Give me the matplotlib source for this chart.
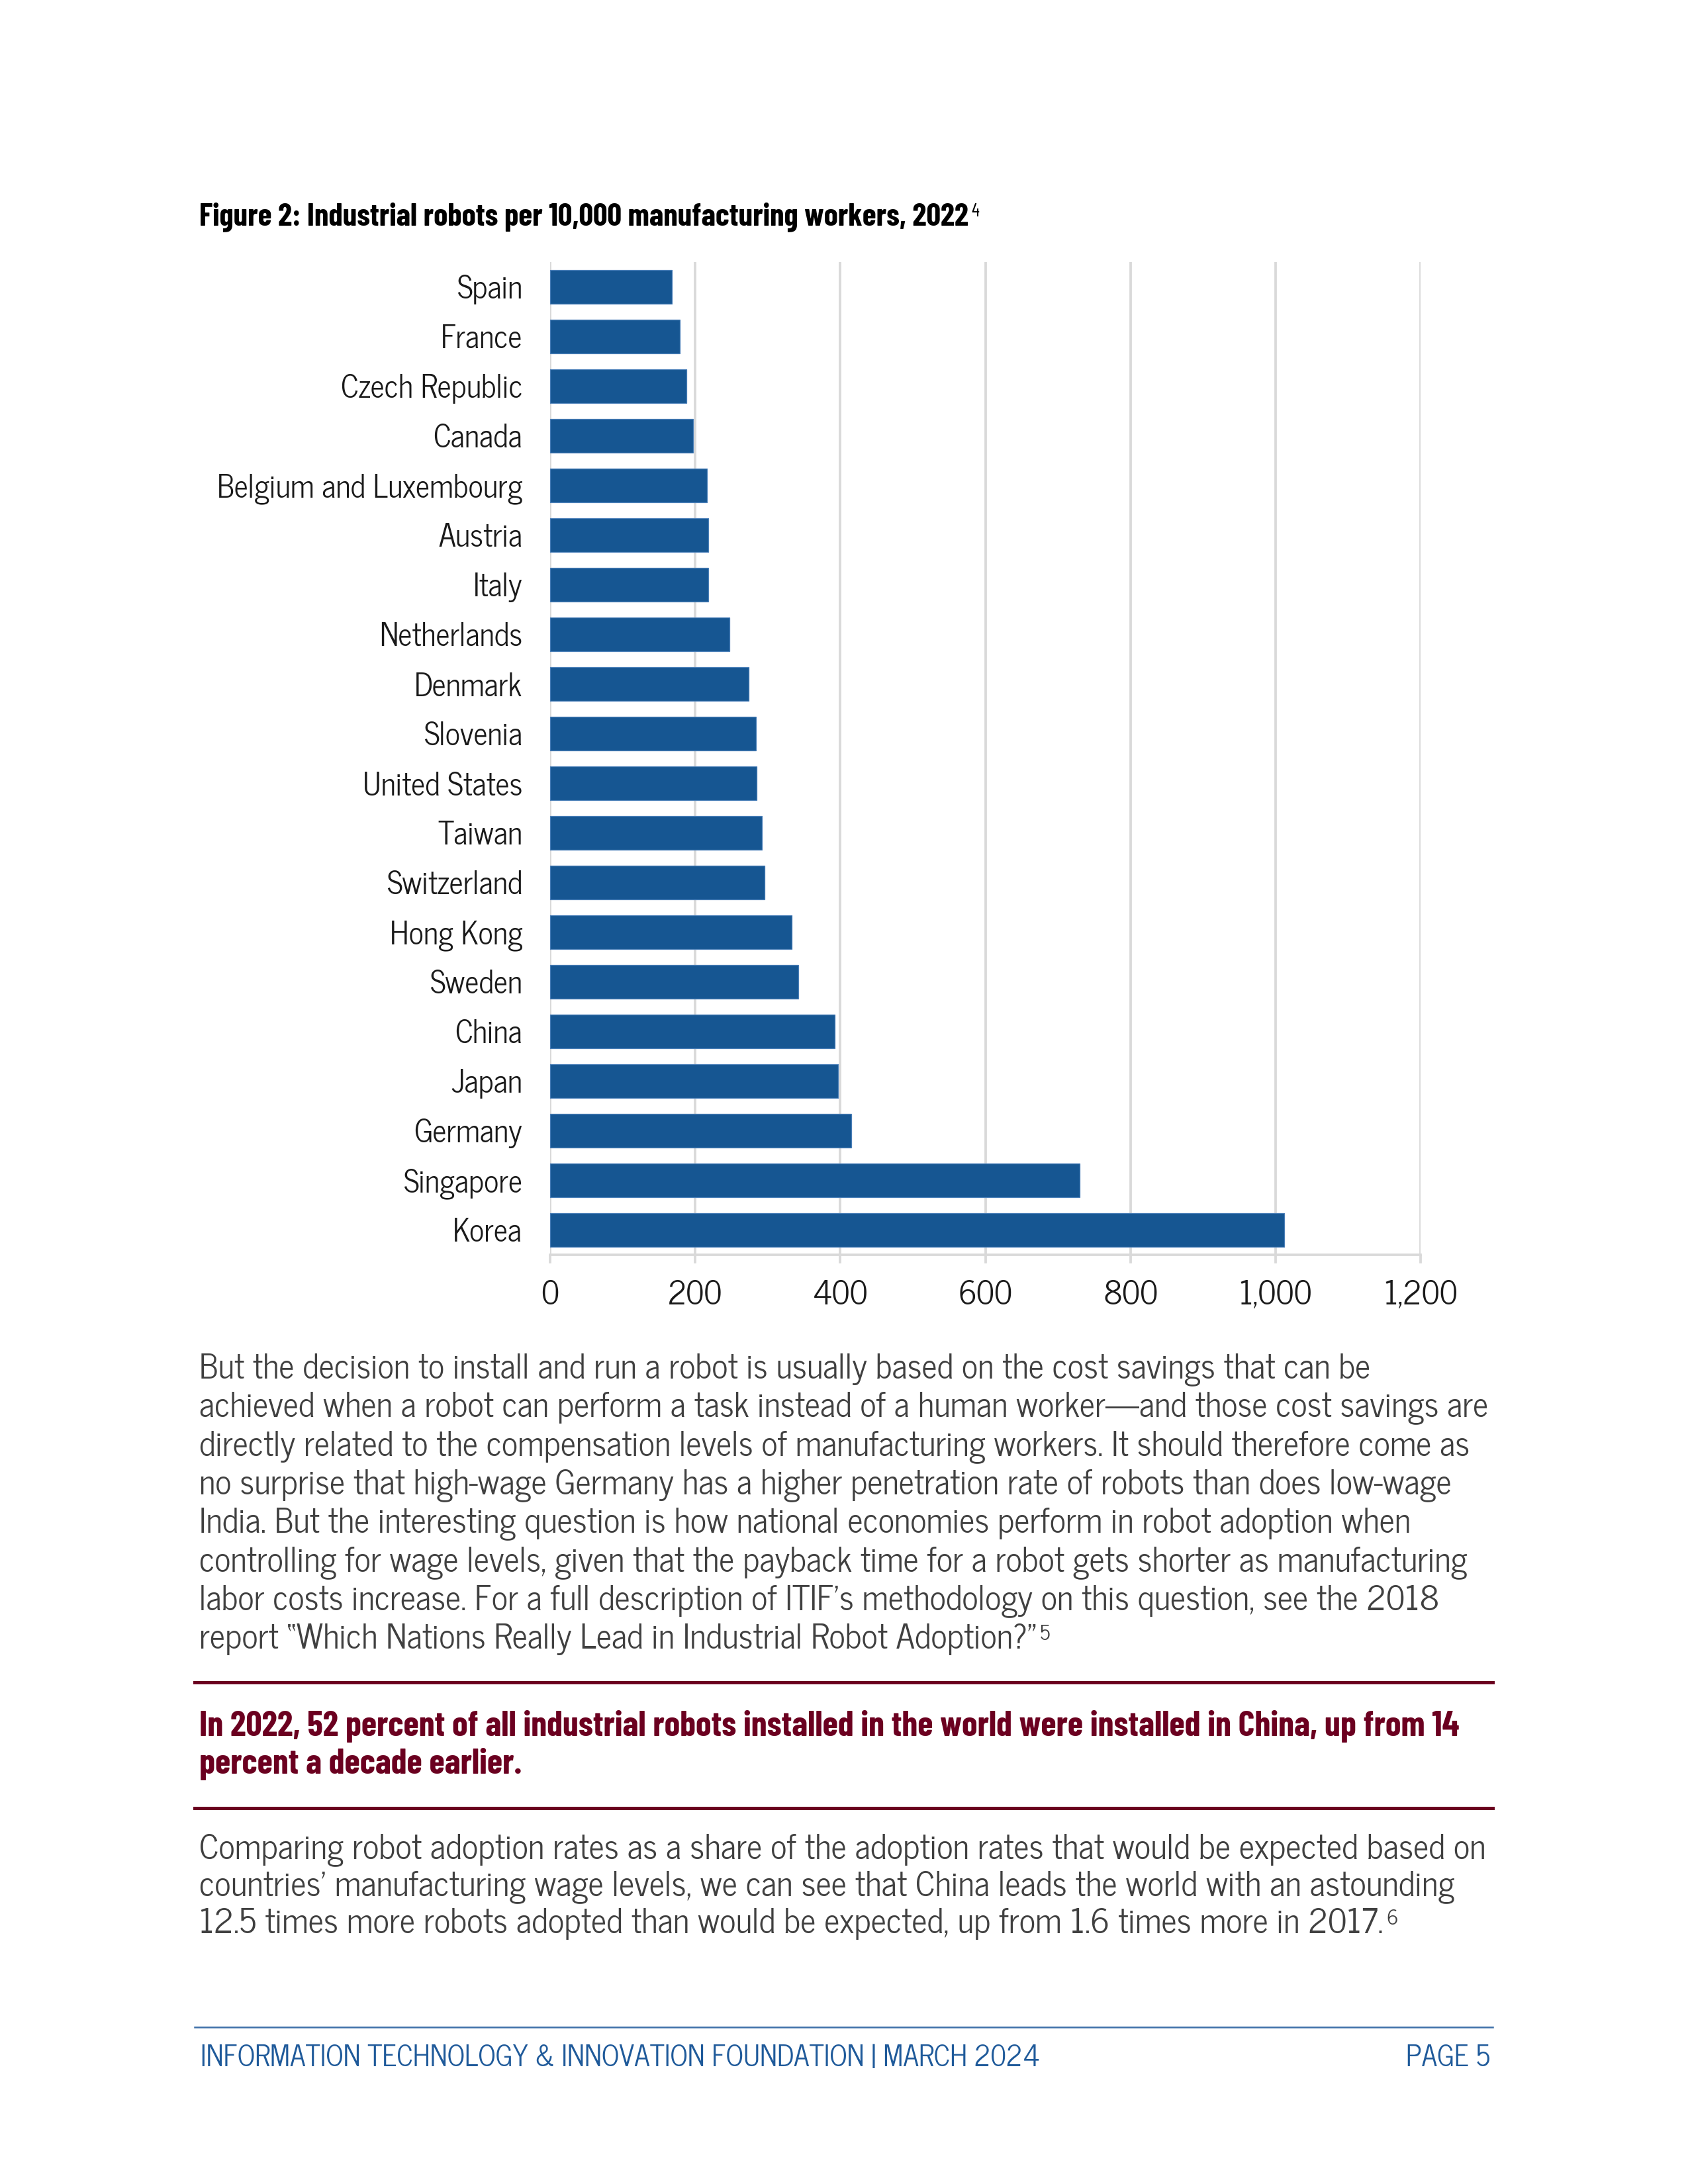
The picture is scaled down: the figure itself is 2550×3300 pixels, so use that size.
import matplotlib
matplotlib.use("Agg")
import matplotlib.pyplot as plt
from matplotlib.ticker import FuncFormatter
from matplotlib import font_manager

# data (robots per 10,000 manufacturing workers, 2022)
countries = ["Spain", "France", "Czech Republic", "Canada", "Belgium and Luxembourg",
             "Austria", "Italy", "Netherlands", "Denmark", "Slovenia", "United States",
             "Taiwan", "Switzerland", "Hong Kong", "Sweden", "China", "Japan",
             "Germany", "Singapore", "Korea"]
robots = [168, 179, 188, 197, 216, 218, 218, 247, 274, 284, 285,
          292, 296, 333, 342, 392, 397, 415, 730, 1012]
x_ticks = [0, 200, 400, 600, 800, 1000, 1200]

title = "Figure 2: Industrial robots per 10,000 manufacturing workers, 2022"
para1 = ["But the decision to install and run a robot is usually based on the cost savings that can be",
         "achieved when a robot can perform a task instead of a human worker\u2014and those cost savings are",
         "directly related to the compensation levels of manufacturing workers. It should therefore come as",
         "no surprise that high-wage Germany has a higher penetration rate of robots than does low-wage",
         "India. But the interesting question is how national economies perform in robot adoption when",
         "controlling for wage levels, given that the payback time for a robot gets shorter as manufacturing",
         "labor costs increase. For a full description of ITIF\u2019s methodology on this question, see the 2018",
         "report \u201cWhich Nations Really Lead in Industrial Robot Adoption?\u201d"]
callout = ["In 2022, 52 percent of all industrial robots installed in the world were installed in China, up from 14",
           "percent a decade earlier."]
para2 = ["Comparing robot adoption rates as a share of the adoption rates that would be expected based on",
         "countries\u2019 manufacturing wage levels, we can see that China leads the world with an astounding",
         "12.5 times more robots adopted than would be expected, up from 1.6 times more in 2017."]
footer_left = "INFORMATION TECHNOLOGY & INNOVATION FOUNDATION | MARCH 2024"
footer_right = "PAGE 5"

names = {f.name for f in font_manager.fontManager.ttflist}


def pick(prefs):
    for n in prefs:
        if n in names:
            return [n, "DejaVu Sans"]
    return ["DejaVu Sans"]


FAM = pick(["News Cycle", "Barlow Semi Condensed", "Roboto Condensed", "DejaVu Sans"])
BFAM = pick(["Barlow Condensed", "Roboto Condensed", "Asap Condensed", "DejaVu Sans"])

BAR = "#165692"
GRID = "#d9d9d9"
BODY = "#404040"
MAROON = "#6b0020"
BLUE = "#1f5a9a"

W, H = 2550, 3300
fig = plt.figure(figsize=(8.5, 11), dpi=300)
renderer = fig.canvas.get_renderer()


def fx(px):
    return px / W


def fy(py):
    return 1 - py / H


def fit(lines, width_px, family, size=11, **kw):
    # font size at which the widest line is width_px wide
    widest = 0
    for s in lines:
        t = fig.text(0, 0, s, family=family, fontsize=size, **kw)
        widest = max(widest, t.get_window_extent(renderer).width)
        t.remove()
    return size * width_px / widest


def sup_after(t, s, color, size, family, gap=5):
    bb = t.get_window_extent(renderer)
    fig.text((bb.x1 + gap) / W, (bb.y1 - 2) / H, s, family=family, fontsize=size,
             color=color, va="top", ha="left")


# chart
ax = fig.add_axes([fx(831), fy(1896), fx(2146 - 831), (1896 - 396) / H])
ypos = list(range(len(countries)))
ax.barh(ypos, robots, height=0.667, color=BAR, edgecolor="#4a7fb8", linewidth=0.3, zorder=3)
ax.set_ylim(len(countries) - 0.5, -0.5)
ax.set_xlim(0, 1200)
ax.set_xticks(x_ticks)
ax.xaxis.set_major_formatter(FuncFormatter(lambda v, p: f"{int(v):,}"))

lab_size = fit(["Belgium and Luxembourg"], 462, FAM)
tick_size = fit(["1,200"], 112, FAM)
ax.set_yticks(ypos)
ax.set_yticklabels(countries, family=FAM, fontsize=lab_size, color="#1a1a1a")
for lab in ax.get_xticklabels():
    lab.set_family(FAM)
    lab.set_fontsize(tick_size)
    lab.set_color("#1a1a1a")
ax.grid(axis="x", color=GRID, linewidth=0.9, zorder=0)
for s in ["top", "right", "left"]:
    ax.spines[s].set_visible(False)
ax.spines["bottom"].set_color(GRID)
ax.spines["bottom"].set_linewidth(0.9)
ax.tick_params(axis="y", length=0, pad=10)
ax.tick_params(axis="x", length=3, width=0.9, color=GRID, pad=6)

# title
ts = fit([title], 1162, BFAM, weight="bold")
t = fig.text(fx(301), fy(340), title, family=BFAM, fontsize=ts, weight="bold",
             color="black", va="baseline")
sup_after(t, "4", "black", ts * 0.6, BFAM, gap=4)

# first paragraph
ps = fit(para1, 1945, FAM)
for i, line in enumerate(para1):
    t = fig.text(fx(301), fy(2082 + i * 58.4), line, family=FAM, fontsize=ps,
                 color=BODY, va="baseline")
sup_after(t, "5", BODY, ps * 0.6, FAM)

# callout with rules
fig.add_artist(plt.Line2D([fx(294), fx(2255)], [fy(2542), fy(2542)], color=MAROON, linewidth=1.2))
cs = fit(callout[:1], 1903, BFAM, weight="bold")
for i, line in enumerate(callout):
    fig.text(fx(301), fy(2623 + i * 57), line, family=BFAM, fontsize=cs, weight="bold",
             color=MAROON, va="baseline")
fig.add_artist(plt.Line2D([fx(294), fx(2255)], [fy(2732), fy(2732)], color=MAROON, linewidth=1.2))

# second paragraph
ps2 = fit(para2, 1939, FAM)
for i, line in enumerate(para2):
    t = fig.text(fx(301), fy(2808 + i * 56.5), line, family=FAM, fontsize=ps2,
                 color=BODY, va="baseline")
sup_after(t, "6", BODY, ps2 * 0.6, FAM)

# footer
fig.add_artist(plt.Line2D([fx(294), fx(2255)], [fy(3063), fy(3063)], color="#3d6fa8", linewidth=0.6))
fs = fit([footer_left], 1272, FAM)
fig.text(fx(303), fy(3122), footer_left, family=FAM, fontsize=fs, color=BLUE, va="baseline")
fig.text(fx(2251), fy(3122), footer_right, family=FAM, fontsize=fs, color=BLUE,
         va="baseline", ha="right")

fig.savefig("out.png", dpi=300)
